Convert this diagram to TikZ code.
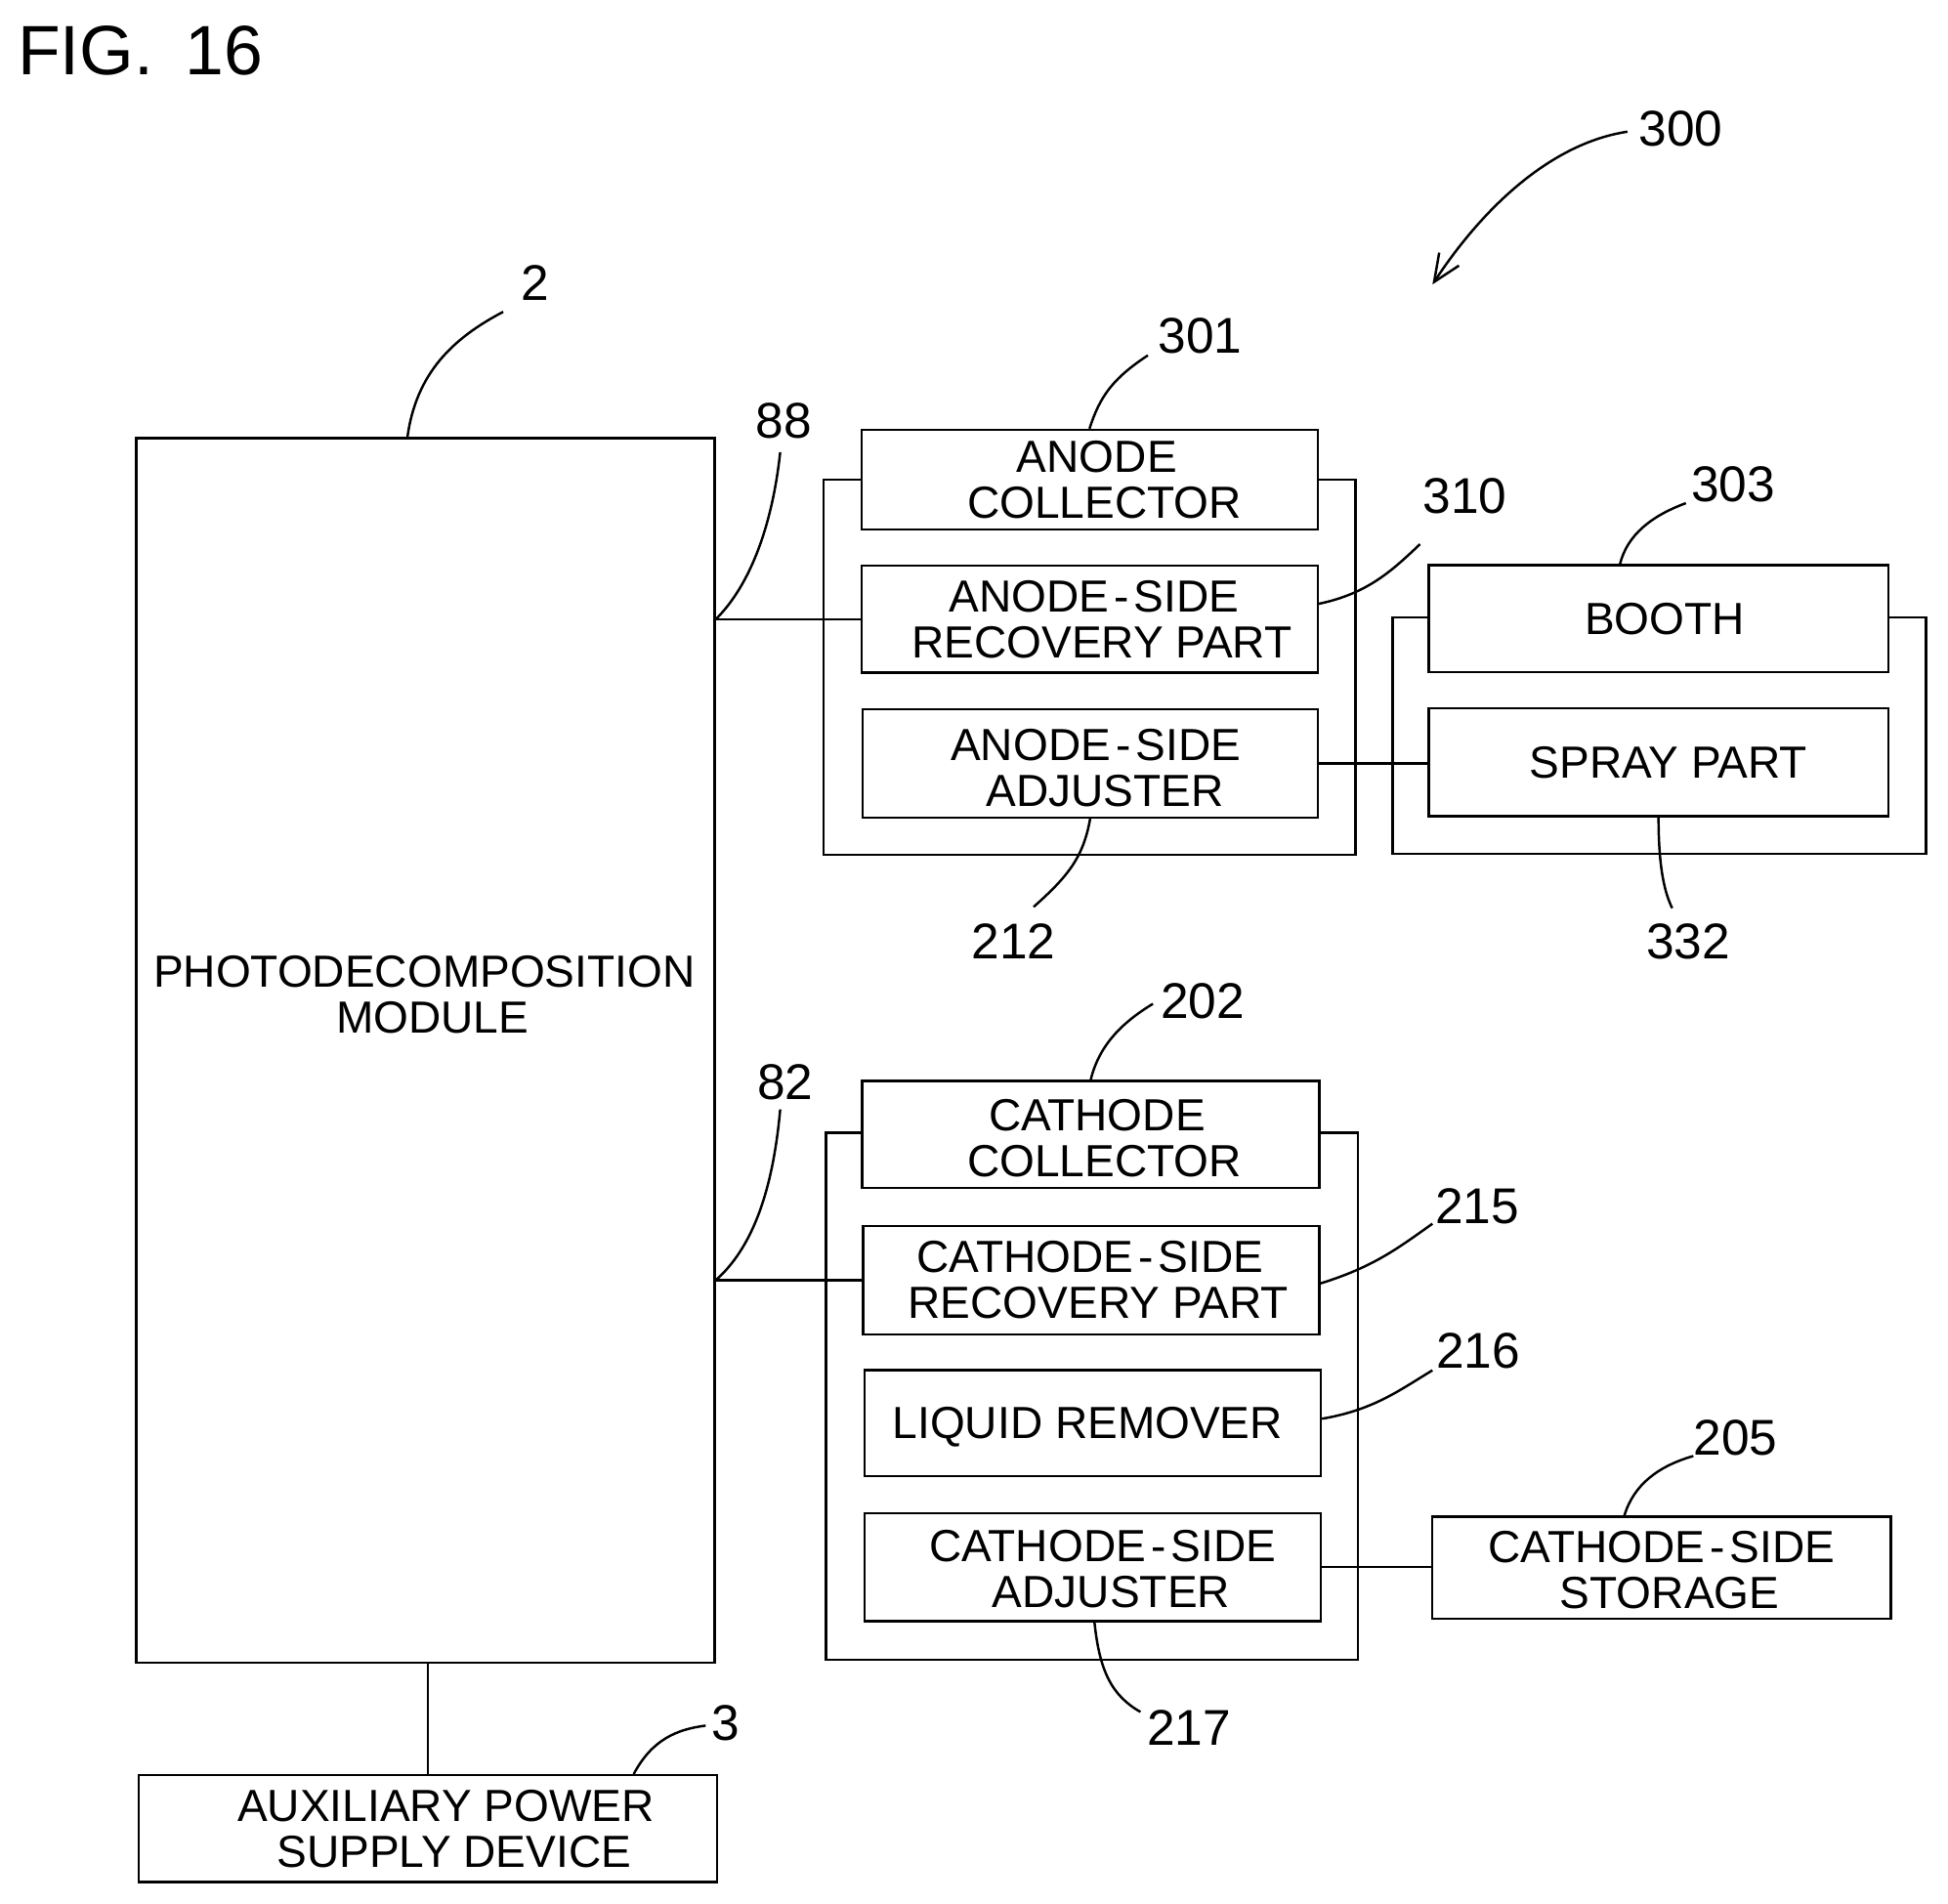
\documentclass[tikz,border=0pt]{standalone}
\usepackage{fontspec}
\setmainfont{Liberation Sans}
\usetikzlibrary{arrows.meta}

\newcommand{\off}[1]{\hspace*{#1cm}}
\newcommand{\drop}[1]{\rule{0pt}{#1cm}}
\newcommand{\hy}{\kern.04cm-\kern.04cm}

\tikzset{
  wire/.style={line width=.55pt},
  lead/.style={line width=.55pt},
  groupbox/.style={draw, line width=.55pt, inner sep=0pt},
  part/.style={draw, fill=white, line width=.55pt, inner sep=0pt, align=center,
    font=\fontsize{10.3}{10.5}\selectfont},
  refnum/.style={inner sep=0pt, font=\fontsize{11.5}{12}\selectfont},
}

\begin{document}
\begin{tikzpicture}[x=0.01cm,y=-0.01cm]
\useasboundingbox (0,0) rectangle (1568,1532);

\node (fig) [inner sep=0pt, font=\fontsize{16}{18}\selectfont] at (113,41) {FIG.\hspace{.1cm} 16};

% frames behind the parts
\node (anodegroup) [groupbox, minimum width=4.28cm, minimum height=3.02cm] at (877,537) {};
\node (boothgroup) [groupbox, minimum width=4.29cm, minimum height=1.90cm] at (1335.5,592) {};
\node (cathodegroup) [groupbox, minimum width=4.28cm, minimum height=4.24cm] at (879,1124) {};

\node (module) [part, minimum width=4.65cm, minimum height=9.85cm] at (342.5,845.5) {\off{-.02}PHOTODECOMPOSITION\\\off{.11}MODULE\\[.53cm]~};
\node (auxsupply) [part, minimum width=4.65cm, minimum height=.86cm] at (344.5,1472) {\off{.29}AUXILIARY POWER\\\off{.42}SUPPLY DEVICE};

\node (collector) [part, minimum width=3.67cm, minimum height=.80cm] at (877,386) {\off{.12}ANODE\\\off{.24}COLLECTOR};
\node (recovery) [part, minimum width=3.67cm, minimum height=.86cm] at (877,498.5) {\off{.07}ANODE\hy SIDE\\\off{.20}RECOVERY PART};
\node (adjuster) [part, minimum width=3.66cm, minimum height=.87cm] at (877.5,614.5) {\drop{.33}\off{.09}ANODE\hy SIDE\\\off{.24}ADJUSTER};

\node (booth) [part, minimum width=3.70cm, minimum height=.86cm] at (1335,498) {\off{.10}BOOTH};
\node (spray) [part, minimum width=3.70cm, minimum height=.87cm] at (1335,613.5) {\off{.16}SPRAY PART};

\node (catcollector) [part, minimum width=3.68cm, minimum height=.86cm] at (878,913) {\drop{.31}\off{.10}CATHODE\\\off{.22}COLLECTOR};
\node (catrecovery) [part, minimum width=3.67cm, minimum height=.87cm] at (878.5,1030.5) {\off{-.02}CATHODE\hy SIDE\\\off{.11}RECOVERY PART};
\node (remover) [part, minimum width=3.67cm, minimum height=.85cm] at (879.5,1145.5) {\drop{.31}\off{-.08}LIQUID REMOVER};
\node (catadjuster) [part, minimum width=3.67cm, minimum height=.87cm] at (879.5,1261.5) {\drop{.29}\off{.16}CATHODE\hy SIDE\\\off{.30}ADJUSTER};
\node (storage) [part, minimum width=3.69cm, minimum height=.82cm] at (1337.5,1262) {\drop{.29}CATHODE\hy SIDE\\\off{.13}STORAGE};

% reference numbers
\node (n2) [refnum] at (431,228) {2};
\node (n3) [refnum] at (584,1387) {3};
\node (n82) [refnum] at (632,871) {82};
\node (n88) [refnum] at (631,339) {88};
\node (n202) [refnum] at (968,806) {202};
\node (n205) [refnum] at (1397,1157) {205};
\node (n212) [refnum] at (816,758) {212};
\node (n215) [refnum] at (1189,971) {215};
\node (n216) [refnum] at (1190,1087) {216};
\node (n217) [refnum] at (957,1391) {217};
\node (n300) [refnum] at (1353,104) {300};
\node (n301) [refnum] at (966,270) {301};
\node (n303) [refnum] at (1395,390) {303};
\node (n310) [refnum] at (1179,399) {310};
\node (n332) [refnum] at (1359,758) {332};

% connectors
\coordinate (j88) at (recovery.west -| module.east);
\coordinate (j82) at (catrecovery.west -| module.east);
\draw[wire] (j88) -- (recovery.west);
\draw[wire] (j82) -- (catrecovery.west);
\draw[wire] (adjuster.east) -- (adjuster.east -| spray.west);
\draw[wire] (catadjuster.east) -- (catadjuster.east -| storage.west);
\draw[wire] (auxsupply.north) -- (auxsupply.north |- module.south);

% leaders
\coordinate (end2) at (405,251);
\coordinate (end3) at (568,1389);
\coordinate (end82) at (628,893);
\coordinate (end88) at (628,364);
\coordinate (end202) at (928,808);
\coordinate (end205) at (1363,1172);
\coordinate (end212) at (832,730);
\coordinate (end215) at (1153,985);
\coordinate (end216) at (1153,1103);
\coordinate (end217) at (918,1378);
\coordinate (end300) at (1310,106);
\coordinate (tip300) at (1153,229);
\coordinate (end301) at (924,286);
\coordinate (end303) at (1357,405);
\coordinate (end310) at (1143,438);
\coordinate (end332) at (1346,731);

\draw[lead] ([xshift=-.145cm]module.north) .. controls (335,300) and (365,272) .. (end2);
\draw[lead] ([xshift=1.655cm]auxsupply.north) .. controls (525,1400) and (545,1392) .. (end3);
\draw[lead] (j82) .. controls (605,1005) and (622,960) .. (end82);
\draw[lead] (j88) .. controls (605,470) and (622,420) .. (end88);
\draw[lead] (collector.north) .. controls (885,320) and (895,305) .. (end301);
\draw[lead] (catcollector.north) .. controls (885,840) and (905,822) .. (end202);
\draw[lead] ([xshift=-.30cm]storage.north) .. controls (1315,1195) and (1335,1180) .. (end205);
\draw[lead] (adjuster.south) .. controls (872,690) and (860,705) .. (end212);
\draw[lead] ([yshift=-.025cm]catrecovery.east) .. controls (1105,1020) and (1125,1005) .. (end215);
\draw[lead] ([yshift=.035cm]remover.east) .. controls (1105,1135) and (1125,1120) .. (end216);
\draw[lead] ([xshift=.015cm]catadjuster.south) .. controls (885,1345) and (895,1365) .. (end217);
\draw[lead] ([yshift=.125cm]recovery.east) .. controls (1100,478) and (1120,460) .. (end310);
\draw[lead] ([xshift=-.31cm]booth.north) .. controls (1310,430) and (1330,415) .. (end303);
\draw[lead] (spray.south) .. controls (1335,690) and (1338,715) .. (end332);
\draw[lead, -{Straight Barb[length=2.2mm,width=1.9mm]}] (end300) .. controls (1250,115) and (1195,165) .. (tip300);
\end{tikzpicture}
\end{document}
